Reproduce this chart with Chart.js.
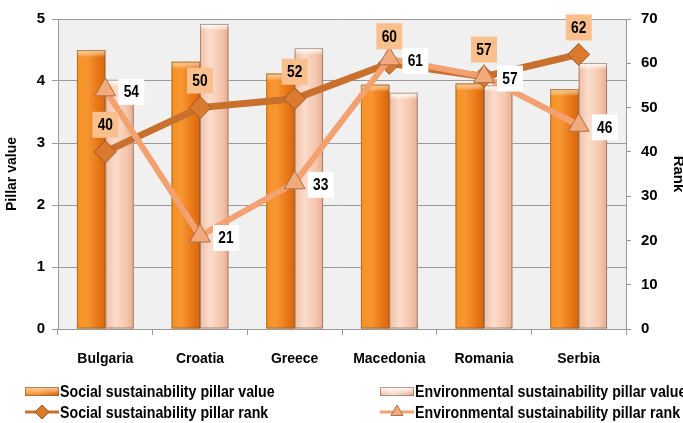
<!DOCTYPE html>
<html>
<head>
<meta charset="utf-8">
<script src="https://cdn.jsdelivr.net/npm/chart.js@4.4.1/dist/chart.umd.min.js"></script>
<style>
  html, body { margin: 0; padding: 0; background: #fff; }
  #wrap { width: 683px; height: 423px; }
</style>
</head>
<body>
<div id="wrap"><canvas id="chart"></canvas></div>
<script>
"use strict";

// data
const countries = ["Bulgaria", "Croatia", "Greece", "Macedonia", "Romania", "Serbia"];
const socialValue = [4.50, 4.31, 4.12, 3.94, 3.96, 3.87];
const envValue = [4.02, 4.92, 4.53, 3.81, 3.93, 4.29];
const socialRank = [40, 50, 52, 60, 57, 62];
const envRank = [54, 21, 33, 61, 57, 46];
const valueTicks = [0, 1, 2, 3, 4, 5];
const rankTicks = [0, 10, 20, 30, 40, 50, 60, 70];

const FONT = "'Liberation Sans', Arial, sans-serif";

// narrow-looking text (the original uses a condensed face)
function narrowText(ctx, text, x, y, sx) {
  ctx.save();
  ctx.translate(x, y);
  ctx.scale(sx, 1);
  ctx.fillText(text, 0, 0);
  ctx.restore();
}

// plot area background
const plotBg = {
  id: "plotBg",
  beforeDraw(chart) {
    const { ctx, chartArea: a } = chart;
    ctx.save();
    ctx.fillStyle = "#f0f0f0";
    ctx.fillRect(a.left, a.top, a.right - a.left, a.bottom - a.top);
    ctx.restore();
  },
};

// shaded bars painted over the library's bar rectangles
function shadeBar(ctx, l, top, w, bottom, pal) {
  const g = ctx.createLinearGradient(l, 0, l + w, 0);
  g.addColorStop(0, pal[0]);
  g.addColorStop(0.35, pal[1]);
  g.addColorStop(0.75, pal[2]);
  g.addColorStop(1, pal[3]);
  ctx.fillStyle = g;
  ctx.fillRect(l, top, w, bottom - top);
  const t = ctx.createLinearGradient(0, top, 0, top + 7);
  t.addColorStop(0, pal[4]);
  t.addColorStop(1, "rgba(255,255,255,0)");
  ctx.fillStyle = t;
  ctx.fillRect(l, top, w, Math.min(7, bottom - top));
  ctx.strokeStyle = "rgba(110,85,70,0.55)";
  ctx.lineWidth = 1;
  ctx.strokeRect(l + 0.5, top + 0.5, w - 1, bottom - top - 1);
}

const barShade = {
  id: "barShade",
  afterDatasetDraw(chart, args) {
    const ds = chart.data.datasets[args.index];
    if (!ds.shade) return;
    const ctx = chart.ctx;
    ctx.save();
    args.meta.data.forEach((el) => {
      const p = el.getProps(["x", "y", "base", "width"], true);
      shadeBar(ctx, p.x - p.width / 2, p.y, p.width, p.base, ds.shade);
    });
    ctx.restore();
  },
};

// boxed value labels next to the rank points
const rankLabels = {
  id: "rankLabels",
  afterDatasetsDraw(chart) {
    const ctx = chart.ctx;
    ctx.save();
    ctx.font = "bold 16px " + FONT;
    ctx.textAlign = "center";
    ctx.textBaseline = "middle";
    chart.data.datasets.forEach((ds, i) => {
      if (!ds.boxLabel) return;
      const meta = chart.getDatasetMeta(i);
      meta.data.forEach((pt, j) => {
        const cx = pt.x + ds.boxLabel.dx;
        const cy = pt.y + ds.boxLabel.dy;
        ctx.fillStyle = ds.boxLabel.bg;
        ctx.fillRect(cx - 13, cy - 13, 26, 26);
        ctx.fillStyle = "#000";
        narrowText(ctx, String(ds.data[j]), cx, cy + 1, 0.86);
      });
    });
    ctx.restore();
  },
};

const socialShade = ["#f7921f", "#f69633", "#e87616", "#d8680f", "#fbc27c"];
const envShade = ["#eec0a6", "#fbdccb", "#f5c6ad", "#e4ad93", "#ffffff"];

// legend in two columns at the bottom
const legendBox = {
  id: "legendBox",
  afterDraw(chart) {
    const ctx = chart.ctx;
    const items = [
      { x: 25, y: 391, kind: "bar", shade: socialShade, text: "Social sustainability pillar value" },
      { x: 380, y: 391, kind: "bar", shade: envShade, text: "Environmental sustainability pillar value" },
      { x: 25, y: 412, kind: "line", ds: 2, text: "Social sustainability pillar rank" },
      { x: 380, y: 412, kind: "line", ds: 3, text: "Environmental sustainability pillar rank" },
    ];
    ctx.save();
    items.forEach((it) => {
      if (it.kind === "bar") {
        shadeBar(ctx, it.x, it.y - 4, 34, it.y + 5, it.shade);
      } else {
        const ds = chart.data.datasets[it.ds];
        ctx.strokeStyle = ds.borderColor;
        ctx.lineWidth = 3;
        ctx.beginPath();
        ctx.moveTo(it.x, it.y);
        ctx.lineTo(it.x + 34, it.y);
        ctx.stroke();
        ctx.fillStyle = ds.pointBackgroundColor;
        ctx.strokeStyle = ds.pointBorderColor;
        ctx.lineWidth = 1;
        Chart.helpers.drawPoint(ctx, { pointStyle: ds.pointStyle, radius: 7, borderWidth: 1, rotation: 0 }, it.x + 17, it.y);
      }
      ctx.fillStyle = "#000";
      ctx.font = "bold 17px " + FONT;
      ctx.textAlign = "left";
      ctx.textBaseline = "middle";
      narrowText(ctx, it.text, it.x + 35, it.y + 1, 0.835);
    });
    ctx.restore();
  },
};

const ctx = document.getElementById("chart").getContext("2d");

new Chart(ctx, {
  type: "bar",
  data: {
    labels: countries,
    datasets: [
      {
        label: "Social sustainability pillar value",
        data: socialValue,
        yAxisID: "y",
        backgroundColor: "#f28a22",
        shade: socialShade,
        categoryPercentage: 0.6,
        barPercentage: 1.0,
        order: 2,
      },
      {
        label: "Environmental sustainability pillar value",
        data: envValue,
        yAxisID: "y",
        backgroundColor: "#f6c9b0",
        shade: envShade,
        categoryPercentage: 0.6,
        barPercentage: 1.0,
        order: 2,
      },
      {
        type: "line",
        label: "Social sustainability pillar rank",
        data: socialRank,
        yAxisID: "yRank",
        borderColor: "#c8702c",
        borderWidth: 7,
        pointStyle: "rectRot",
        pointRadius: 11,
        pointBackgroundColor: "#d97a2e",
        pointBorderColor: "#9e561f",
        pointBorderWidth: 1,
        boxLabel: { dx: 0, dy: -27, bg: "#f9bf8c" },
        order: 1,
      },
      {
        type: "line",
        label: "Environmental sustainability pillar rank",
        data: envRank,
        yAxisID: "yRank",
        borderColor: "#f3a171",
        borderWidth: 6,
        pointStyle: "triangle",
        pointRadius: 12,
        pointBackgroundColor: "#f2a97c",
        pointBorderColor: "#a9714c",
        pointBorderWidth: 1,
        boxLabel: { dx: 26, dy: 2, bg: "#ffffff" },
        order: 0,
      },
    ],
  },
  options: {
    responsive: true,
    maintainAspectRatio: false,
    animation: false,
    layout: { padding: { top: 18, bottom: 54, left: 0, right: 0 } },
    plugins: {
      legend: { display: false },
      tooltip: { enabled: false },
    },
    scales: {
      x: {
        grid: { drawOnChartArea: false, tickLength: 6, color: "#999" },
        border: { color: "#999" },
        ticks: { color: "#000", padding: 16, font: { family: FONT, size: 14, weight: "bold" } },
        afterFit(scale) { scale.height = 40; },
      },
      y: {
        position: "left",
        min: 0,
        max: 5,
        afterBuildTicks(scale) { scale.ticks = valueTicks.map((v) => ({ value: v })); },
        grid: { color: "#9a9a9a", tickLength: 6 },
        border: { color: "#9a9a9a" },
        ticks: { color: "#000", padding: 7, font: { family: FONT, size: 15, weight: "bold" } },
        title: { display: true, text: "Pillar value", color: "#000", padding: { top: 4, bottom: 0 }, font: { family: FONT, size: 14, weight: "bold" } },
        afterFit(scale) { scale.width = 58; },
      },
      yRank: {
        position: "right",
        min: 0,
        max: 70,
        afterBuildTicks(scale) { scale.ticks = rankTicks.map((v) => ({ value: v })); },
        grid: { drawOnChartArea: false, tickLength: 5, color: "#9a9a9a" },
        border: { color: "#9a9a9a" },
        ticks: { color: "#000", padding: 10, font: { family: FONT, size: 15, weight: "bold" } },
        title: { display: true, text: "Rank", color: "#000", padding: { top: -4, bottom: 0 }, font: { family: FONT, size: 15, weight: "bold" } },
        afterFit(scale) { scale.width = 57; },
      },
    },
  },
  plugins: [plotBg, barShade, rankLabels, legendBox],
});
</script>
</body>
</html>
